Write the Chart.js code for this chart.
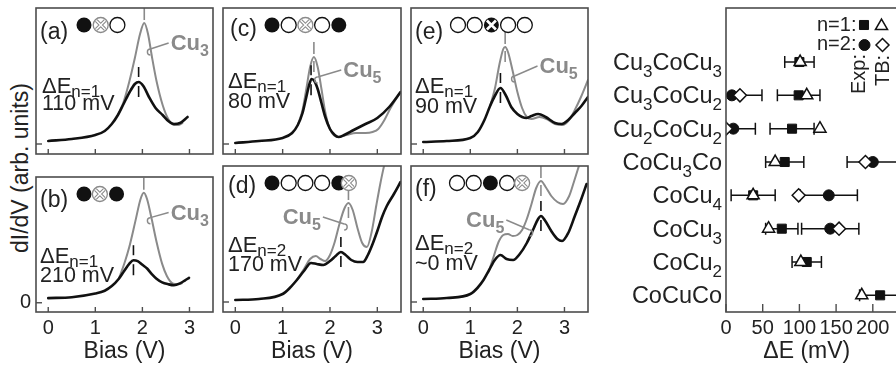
<!DOCTYPE html>
<html>
<head>
<meta charset="utf-8">
<script src="https://cdn.jsdelivr.net/npm/chart.js@4/dist/chart.umd.min.js"></script>
<style>
  html, body { margin: 0; padding: 0; background: #fff; }
  body { width: 896px; height: 369px; overflow: hidden; position: relative;
         font-family: 'Liberation Sans', Arial, Helvetica, sans-serif; }
  canvas { position: absolute; }
  #ylab { position: absolute; left: 20px; top: 168px; transform: translate(-50%, -50%) rotate(-90deg);
          font-size: 23px; color: #222; white-space: nowrap; line-height: 1; }
</style>
</head>
<body>
<div id="ylab">dI/dV (arb. units)</div>
<canvas id="pa" width="218" height="160" style="left:0;top:0"></canvas>
<canvas id="pb" width="218" height="209" style="left:0;top:160px"></canvas>
<canvas id="pc" width="196" height="160" style="left:210px;top:0"></canvas>
<canvas id="pd" width="196" height="209" style="left:210px;top:160px"></canvas>
<canvas id="pe" width="195" height="160" style="left:398px;top:0"></canvas>
<canvas id="pf" width="195" height="209" style="left:398px;top:160px"></canvas>
<canvas id="pg" width="320" height="369" style="left:600px;top:0"></canvas>
<script>
// ---- dI/dV spectra: bias (V) and dI/dV (arb. units) ----
const aExpBias = [0, 0.5, 1.0, 1.2, 1.35, 1.48, 1.6, 1.73, 1.84, 1.92, 2.02, 2.14, 2.28, 2.43, 2.55, 2.67, 2.8, 2.96];
const aExpDidv = [0.03, 0.05, 0.09, 0.13, 0.2, 0.29, 0.4, 0.52, 0.6, 0.62, 0.58, 0.47, 0.36, 0.29, 0.23, 0.2, 0.21, 0.27];
const aCuBias  = [1.48, 1.6, 1.72, 1.84, 1.95, 2.04, 2.12, 2.2, 2.3, 2.43, 2.55, 2.67, 2.76, 2.85];
const aCuDidv  = [0.29, 0.42, 0.62, 0.86, 1.1, 1.21, 1.1, 0.88, 0.63, 0.39, 0.25, 0.19, 0.19, 0.21];

const bExpBias = [0, 0.5, 1.0, 1.2, 1.35, 1.5, 1.62, 1.72, 1.81, 1.9, 2.0, 2.1, 2.2, 2.3, 2.42, 2.55, 2.67, 2.8, 2.9, 2.99];
const bExpDidv = [0.05, 0.06, 0.1, 0.13, 0.18, 0.26, 0.35, 0.42, 0.46, 0.45, 0.41, 0.37, 0.31, 0.26, 0.22, 0.2, 0.19, 0.21, 0.24, 0.27];
const bCuBias  = [1.5, 1.62, 1.72, 1.85, 1.96, 2.03, 2.1, 2.2, 2.3, 2.42, 2.52, 2.64, 2.75, 2.84];
const bCuDidv  = [0.26, 0.43, 0.6, 0.88, 1.12, 1.19, 1.12, 0.9, 0.66, 0.42, 0.29, 0.21, 0.2, 0.21];

const cExpBias = [0, 0.5, 1.0, 1.2, 1.32, 1.42, 1.5, 1.56, 1.61, 1.67, 1.74, 1.82, 1.9, 2.0, 2.1, 2.18, 2.3, 2.5, 2.75, 3.0, 3.25, 3.49];
const cExpDidv = [0.01, 0.03, 0.06, 0.11, 0.19, 0.31, 0.47, 0.59, 0.65, 0.63, 0.55, 0.41, 0.27, 0.15, 0.09, 0.07, 0.09, 0.14, 0.2, 0.26, 0.37, 0.52];
const cCuBias  = [1.32, 1.42, 1.5, 1.58, 1.66, 1.74, 1.82, 1.9, 1.98, 2.06, 2.18, 2.35, 2.55, 2.75, 2.9, 3.02, 3.15, 3.28, 3.49];
const cCuDidv  = [0.19, 0.34, 0.55, 0.77, 0.87, 0.77, 0.55, 0.32, 0.17, 0.1, 0.07, 0.09, 0.11, 0.11, 0.12, 0.15, 0.24, 0.36, 0.52];

const dExpBias = [0, 0.5, 1.0, 1.15, 1.3, 1.45, 1.6, 1.72, 1.86, 2.0, 2.12, 2.23, 2.33, 2.45, 2.58, 2.7, 2.8, 2.9, 3.0, 3.1, 3.2, 3.35, 3.49];
const dExpDidv = [0.02, 0.03, 0.08, 0.14, 0.22, 0.31, 0.39, 0.38, 0.37, 0.41, 0.46, 0.5, 0.47, 0.42, 0.4, 0.4, 0.47, 0.58, 0.71, 0.85, 0.96, 1.08, 1.2];
const dCuBias  = [1.3, 1.45, 1.58, 1.7, 1.8, 1.9, 2.0, 2.1, 2.2, 2.3, 2.39, 2.48, 2.58, 2.68, 2.78, 2.88, 2.98, 3.07, 3.15];
const dCuDidv  = [0.22, 0.33, 0.43, 0.46, 0.43, 0.41, 0.47, 0.6, 0.78, 0.93, 0.99, 0.92, 0.74, 0.59, 0.55, 0.7, 0.97, 1.2, 1.38];

const eExpBias = [0, 0.5, 1.0, 1.16, 1.3, 1.42, 1.52, 1.64, 1.75, 1.87, 2.0, 2.1, 2.19, 2.3, 2.44, 2.6, 2.8, 2.94, 3.08, 3.22, 3.36, 3.5];
const eExpDidv = [0.02, 0.03, 0.06, 0.12, 0.24, 0.38, 0.48, 0.56, 0.49, 0.37, 0.3, 0.27, 0.26, 0.28, 0.3, 0.27, 0.21, 0.2, 0.24, 0.31, 0.38, 0.47];
const eCuBias  = [1.42, 1.52, 1.62, 1.7, 1.74, 1.8, 1.9, 2.0, 2.1, 2.2, 2.3, 2.47, 2.62, 2.8, 2.97, 3.1, 3.22, 3.36, 3.5];
const eCuDidv  = [0.38, 0.55, 0.8, 0.95, 0.97, 0.92, 0.73, 0.52, 0.36, 0.27, 0.25, 0.27, 0.25, 0.2, 0.19, 0.24, 0.34, 0.48, 0.64];

const fExpBias = [0, 0.5, 1.0, 1.15, 1.28, 1.4, 1.52, 1.64, 1.77, 1.91, 2.05, 2.2, 2.35, 2.44, 2.5, 2.58, 2.72, 2.85, 2.95, 3.08, 3.22, 3.35, 3.47];
const fExpDidv = [0.03, 0.04, 0.08, 0.14, 0.22, 0.32, 0.42, 0.47, 0.43, 0.42, 0.48, 0.59, 0.74, 0.83, 0.86, 0.82, 0.71, 0.63, 0.61, 0.69, 0.86, 1.02, 1.18];
const fCuBias  = [1.4, 1.5, 1.6, 1.7, 1.8, 1.9, 2.0, 2.1, 2.2, 2.3, 2.4, 2.5, 2.6, 2.72, 2.85, 2.97, 3.1, 3.2, 3.32];
const fCuDidv  = [0.32, 0.46, 0.6, 0.67, 0.68, 0.66, 0.67, 0.72, 0.83, 0.98, 1.14, 1.21, 1.15, 1.06, 1.0, 0.98, 1.06, 1.2, 1.38];

const biasTicks = [0, 1, 2, 3];

// ---- (g) splitting of resonances, ΔE (mV) ----
const structures = ['Cu3CoCu3', 'Cu3CoCu2', 'Cu2CoCu2', 'CoCu3Co', 'CoCu4', 'CoCu3', 'CoCu2', 'CoCuCo'];
const expN1    = [100, 99, 90, 80, 37, 76, 110, 210];
const expN1Err = [20, 29, 30, 26, 30, 22, 20, 28];
const expN2    = [null, 8, 10, 200, 140, 142, null, null];
const expN2Err = [null, 41, 30, 35, 39, 39, null, null];
const tbN1     = [101, 110, 128, 67, 37, 58, 102, 185];
const tbN2     = [null, 19, 0, 190, 99, 154, null, null];
const deltaTicks = [0, 50, 100, 150, 200];

// ---- common styling ----
const FAMILY = "'Liberation Sans', Arial, Helvetica, sans-serif";
Chart.defaults.font.family = FAMILY;
Chart.defaults.color = '#222';
const INK = '#111';
const CU_GREY = '#8a8a8a';
const FRAME = '#4d4d4d';
const f = (size, weight) => (weight ? weight + ' ' : '') + size + 'px ' + FAMILY;

function interp(xs, ys, v) {
  for (let i = 1; i < xs.length; i++) {
    if (v <= xs[i]) { const t = (v - xs[i - 1]) / (xs[i] - xs[i - 1]); return ys[i - 1] + t * (ys[i] - ys[i - 1]); }
  }
  return ys[ys.length - 1];
}
const pts = (xs, ys) => xs.map((x, i) => ({ x, y: ys[i] }));

// text with a subscript part; returns total width
function subText(ctx, x, y, main, sub, mainFont, subFont, subDy) {
  ctx.textAlign = 'left'; ctx.textBaseline = 'alphabetic';
  ctx.font = mainFont; const w1 = ctx.measureText(main).width;
  ctx.fillText(main, x, y);
  ctx.font = subFont; const w2 = ctx.measureText(sub).width;
  ctx.fillText(sub, x + w1, y + subDy);
  return w1 + w2;
}

// atoms of the chain: F filled (Co), O open (Cu), X crossed Cu, K crossed Co
function drawAtom(ctx, kind, cx, cy, r) {
  ctx.save();
  ctx.beginPath(); ctx.arc(cx, cy, r, 0, Math.PI * 2);
  if (kind === 'F' || kind === 'K') { ctx.fillStyle = INK; ctx.fill(); }
  else {
    ctx.fillStyle = '#fff'; ctx.fill();
    ctx.lineWidth = 1.3; ctx.strokeStyle = kind === 'X' ? '#8a8a8a' : INK; ctx.stroke();
  }
  if (kind === 'X' || kind === 'K') {
    const d = r * 0.6;
    ctx.beginPath();
    ctx.moveTo(cx - d, cy - d); ctx.lineTo(cx + d, cy + d);
    ctx.moveTo(cx + d, cy - d); ctx.lineTo(cx - d, cy + d);
    if (kind === 'X') {
      ctx.strokeStyle = '#8a8a8a'; ctx.lineWidth = 3.6; ctx.stroke();
      ctx.strokeStyle = '#fff'; ctx.lineWidth = 1.5; ctx.stroke();
    } else {
      ctx.strokeStyle = '#fff'; ctx.lineWidth = 2.6; ctx.stroke();
    }
  }
  ctx.restore();
}

function vseg(ctx, x, y0, y1) { ctx.beginPath(); ctx.moveTo(x, y0); ctx.lineTo(x, y1); ctx.stroke(); }

// frame, inward ticks, peak markers and annotations of one spectrum panel
function spectrumDecor(p) {
  return {
    id: 'spectrumDecor',
    afterDatasetsDraw(chart) {
      const { ctx, chartArea: ca, scales: { x, y } } = chart;
      ctx.save();
      // peak markers
      ctx.save();
      ctx.beginPath(); ctx.rect(ca.left, ca.top, ca.width, ca.height); ctx.clip();
      const cx = x.getPixelForValue(p.peaks[0]);
      const cy = y.getPixelForValue(interp(p.cuX, p.cuY, p.peaks[0]));
      ctx.strokeStyle = CU_GREY; ctx.lineWidth = 1.6;
      vseg(ctx, cx, cy - 15, cy - 3);
      if (p.cuBelow) vseg(ctx, cx, cy + 4, cy + 15);
      const ex = x.getPixelForValue(p.peaks[1]);
      const ey = y.getPixelForValue(interp(p.expX, p.expY, p.peaks[1]));
      ctx.strokeStyle = INK; ctx.lineWidth = 1.6;
      vseg(ctx, ex, ey - 15, ey - 5);
      vseg(ctx, ex, ey + 4, ey + 15);
      ctx.restore();

      // frame
      ctx.strokeStyle = FRAME; ctx.lineWidth = 1.6;
      ctx.strokeRect(ca.left, ca.top, ca.width, ca.height);
      // inward ticks
      ctx.lineWidth = 1.4;
      biasTicks.forEach(v => {
        const tx = x.getPixelForValue(v);
        ctx.beginPath(); ctx.moveTo(tx, ca.bottom); ctx.lineTo(tx, ca.bottom - 5); ctx.stroke();
      });
      const y0 = y.getPixelForValue(0);
      ctx.beginPath(); ctx.moveTo(ca.left, y0); ctx.lineTo(ca.left + 6, y0); ctx.stroke();

      // chain of atoms
      p.chain.forEach(([kind, slot]) => drawAtom(ctx, kind, ca.left + p.atomDx + slot * 16.7, ca.top + 17, 7.5));

      // panel letter and splitting text
      ctx.fillStyle = '#222';
      ctx.font = f(23); ctx.textAlign = 'left'; ctx.textBaseline = 'alphabetic';
      ctx.fillText(p.letter, ca.left + p.letterDx, ca.top + p.letterDy);
      subText(ctx, ca.left + p.textDx, ca.top + p.dEDy, 'ΔE', p.n, f(22), f(17), 4);
      ctx.font = f(21.5);
      ctx.fillText(p.dE, ca.left + p.textDx, ca.top + p.valDy);

      // Cu chain label with leader
      const lx = x.getPixelForValue(p.cuAt[0]), ly = y.getPixelForValue(p.cuAt[1]);
      ctx.fillStyle = CU_GREY;
      const w = subText(ctx, lx, ly, 'Cu', p.cuSub, f(22, 'bold'), f(16, 'bold'), 6);
      const sx = p.leadSide === 'left' ? lx - 2 : lx + w + 2;
      const sy = ly - 7;
      const tx = x.getPixelForValue(p.cuLead[0]), ty = y.getPixelForValue(p.cuLead[1]);
      ctx.strokeStyle = CU_GREY; ctx.lineWidth = 1.4;
      ctx.beginPath(); ctx.moveTo(sx, sy); ctx.lineTo(tx, ty); ctx.stroke();
      ctx.beginPath();
      ctx.arc(tx, ty + 3, 3, -Math.PI / 2, Math.PI / 2, p.leadSide === 'left');
      ctx.stroke();
      ctx.restore();
    }
  };
}

const panels = [
  { canvas: 'pa', letter: '(a)', bottom: false, zeroLabel: false, axisWidth: 36,
    expX: aExpBias, expY: aExpDidv, cuX: aCuBias, cuY: aCuDidv, peaks: [2.04, 1.92],
    chain: [['F', 0], ['X', 1], ['O', 2]], n: 'n=1', dE: '110 mV', cuSub: '3',
    cuAt: [2.6, 0.94], cuLead: [2.17, 0.95], leadSide: 'left', cuBelow: false,
    atomDx: 48, letterDx: 4, letterDy: 31, textDx: 6, dEDy: 85, valDy: 102 },
  { canvas: 'pb', letter: '(b)', bottom: true, zeroLabel: true, axisWidth: 36,
    expX: bExpBias, expY: bExpDidv, cuX: bCuBias, cuY: bCuDidv, peaks: [2.03, 1.81],
    chain: [['F', 0], ['X', 0.95], ['F', 1.95]], n: 'n=1', dE: '210 mV', cuSub: '3',
    cuAt: [2.6, 0.9], cuLead: [2.17, 0.92], leadSide: 'left', cuBelow: false,
    atomDx: 48, letterDx: 4, letterDy: 30, textDx: 4, dEDy: 86, valDy: 105 },
  { canvas: 'pc', letter: '(c)', bottom: false, zeroLabel: false, axisWidth: 13,
    expX: cExpBias, expY: cExpDidv, cuX: cCuBias, cuY: cCuDidv, peaks: [1.66, 1.6],
    chain: [['F', 0], ['O', 1], ['X', 2], ['O', 3], ['F', 4]], n: 'n=1', dE: '80 mV', cuSub: '5',
    cuAt: [2.28, 0.67], cuLead: [1.74, 0.67], leadSide: 'left', cuBelow: true,
    atomDx: 49, letterDx: 7, letterDy: 28, textDx: 5, dEDy: 80, valDy: 100 },
  { canvas: 'pd', letter: '(d)', bottom: true, zeroLabel: false, axisWidth: 13,
    expX: dExpBias, expY: dExpDidv, cuX: dCuBias, cuY: dCuDidv, peaks: [2.39, 2.23],
    chain: [['F', 0], ['O', 1], ['O', 2], ['O', 3], ['F', 4], ['X', 4.6]], n: 'n=2', dE: '170 mV', cuSub: '5',
    cuAt: [1.0, 0.78], cuLead: [2.3, 0.78], leadSide: 'right', cuBelow: true,
    atomDx: 49, letterDx: 5, letterDy: 27, textDx: 5, dEDy: 86, valDy: 105 },
  { canvas: 'pe', letter: '(e)', bottom: false, zeroLabel: false, axisWidth: 13,
    expX: eExpBias, expY: eExpDidv, cuX: eCuBias, cuY: eCuDidv, peaks: [1.74, 1.64],
    chain: [['O', 0], ['O', 1], ['K', 2], ['O', 3], ['O', 4]], n: 'n=1', dE: '90 mV', cuSub: '5',
    cuAt: [2.47, 0.71], cuLead: [1.94, 0.68], leadSide: 'left', cuBelow: true,
    atomDx: 47, letterDx: 4, letterDy: 31, textDx: 4, dEDy: 85, valDy: 105 },
  { canvas: 'pf', letter: '(f)', bottom: true, zeroLabel: false, axisWidth: 13,
    expX: fExpBias, expY: fExpDidv, cuX: fCuBias, cuY: fCuDidv, peaks: [2.5, 2.5],
    chain: [['O', 0], ['O', 1], ['F', 2], ['O', 3], ['X', 3.9]], n: 'n=2', dE: '~0 mV', cuSub: '5',
    cuAt: [0.91, 0.75], cuLead: [2.26, 0.72], leadSide: 'right', cuBelow: true,
    atomDx: 46, letterDx: 4, letterDy: 30, textDx: 4, dEDy: 84, valDy: 104 }
];

panels.forEach(p => {
  new Chart(document.getElementById(p.canvas), {
    type: 'line',
    data: {
      datasets: [
        { label: 'Exp', data: pts(p.expX, p.expY), borderColor: INK, borderWidth: 2.6, order: 0, clip: 0 },
        { label: 'Cu', data: pts(p.cuX, p.cuY), borderColor: CU_GREY, borderWidth: 2, order: 1, clip: 0 }
      ]
    },
    options: {
      responsive: false, animation: false, devicePixelRatio: 1, events: [],
      layout: { autoPadding: false, padding: { top: p.bottom ? 6 : 8, right: 5, left: 0, bottom: 0 } },
      elements: {
        point: { radius: 0 },
        line: { cubicInterpolationMode: 'monotone', borderJoinStyle: 'round', borderCapStyle: 'round' }
      },
      plugins: { legend: { display: false }, tooltip: { enabled: false } },
      scales: {
        x: {
          type: 'linear', min: -0.26, max: 3.5,
          grid: { display: false, drawTicks: false }, border: { display: false },
          ticks: { display: p.bottom, font: { size: 20 }, padding: 4, color: '#222' },
          title: { display: p.bottom, text: 'Bias (V)', font: { size: 23 }, color: '#222', padding: { top: 0, bottom: 4 } },
          afterBuildTicks: s => { s.ticks = biasTicks.map(v => ({ value: v })); },
          afterFit: s => { s.height = p.bottom ? 57 : 6; }
        },
        y: {
          type: 'linear', min: -0.1, max: 1.36,
          grid: { display: false, drawTicks: false }, border: { display: false },
          ticks: { display: p.zeroLabel, font: { size: 20 }, padding: 5, color: '#222' },
          afterBuildTicks: s => { s.ticks = [{ value: 0 }]; },
          afterFit: s => { s.width = p.axisWidth; }
        }
      }
    },
    plugins: [spectrumDecor(p)]
  });
});

// ---- panel (g) ----
const rowOf = i => structures.length - 1 - i;
const rowPoints = vals => vals.map((v, i) => (v == null ? null : { x: v, y: rowOf(i) })).filter(Boolean);

function marker(ctx, style, radius, x, y, filled) {
  ctx.save();
  ctx.fillStyle = filled ? INK : '#fff';
  ctx.strokeStyle = INK; ctx.lineWidth = filled ? 1 : 1.5;
  if (Chart.helpers && Chart.helpers.drawPoint) {
    Chart.helpers.drawPoint(ctx, { pointStyle: style, radius, borderWidth: ctx.lineWidth, rotation: 0 }, x, y);
  } else {
    ctx.beginPath();
    if (style === 'circle') ctx.arc(x, y, radius, 0, Math.PI * 2);
    else if (style === 'rect') { const s = radius * Math.SQRT1_2; ctx.rect(x - s, y - s, 2 * s, 2 * s); }
    else if (style === 'triangle') {
      for (let k = 0; k < 3; k++) { const a = k * 2 * Math.PI / 3; ctx[k ? 'lineTo' : 'moveTo'](x + Math.sin(a) * radius, y - Math.cos(a) * radius); }
      ctx.closePath();
    } else { ctx.moveTo(x, y - radius); ctx.lineTo(x + radius, y); ctx.lineTo(x, y + radius); ctx.lineTo(x - radius, y); ctx.closePath(); }
    ctx.fill(); ctx.stroke();
  }
  ctx.restore();
}

const splittingDecor = {
  id: 'splittingDecor',
  beforeDatasetsDraw(chart) {
    const { ctx, chartArea: ca, scales: { x, y } } = chart;
    ctx.save();
    ctx.beginPath(); ctx.rect(ca.left, ca.top, ca.width, ca.height); ctx.clip();
    ctx.strokeStyle = INK; ctx.lineWidth = 1.5;
    const bars = (vals, errs) => vals.forEach((v, i) => {
      if (v == null) return;
      const py = y.getPixelForValue(rowOf(i));
      const x0 = x.getPixelForValue(v - errs[i]), x1 = x.getPixelForValue(v + errs[i]);
      ctx.beginPath();
      ctx.moveTo(x0, py); ctx.lineTo(x1, py);
      ctx.moveTo(x0, py - 6); ctx.lineTo(x0, py + 6);
      ctx.moveTo(x1, py - 6); ctx.lineTo(x1, py + 6);
      ctx.stroke();
    });
    bars(expN1, expN1Err);
    bars(expN2, expN2Err);
    ctx.restore();
  },
  afterDatasetsDraw(chart) {
    const { ctx, chartArea: ca, scales: { x, y } } = chart;
    ctx.save();
    ctx.strokeStyle = FRAME; ctx.lineWidth = 1.6;
    ctx.strokeRect(ca.left, ca.top, ca.width, ca.height);
    ctx.lineWidth = 1.4;
    deltaTicks.forEach(v => {
      const tx = x.getPixelForValue(v);
      ctx.beginPath(); ctx.moveTo(tx, ca.bottom); ctx.lineTo(tx, ca.bottom - 8); ctx.stroke();
    });

    // structure names with subscripts, right-aligned at the axis
    ctx.fillStyle = '#222';
    const mainF = f(23.5), subF = f(17);
    structures.forEach((name, i) => {
      const parts = name.split(/(\d+)/).filter(s => s.length);
      let total = 0;
      parts.forEach(s => { ctx.font = /\d/.test(s) ? subF : mainF; total += ctx.measureText(s).width; });
      const base = y.getPixelForValue(rowOf(i)) + 8;
      let px = ca.left - 4 - total;
      ctx.textAlign = 'left'; ctx.textBaseline = 'alphabetic';
      parts.forEach(s => {
        const sub = /\d/.test(s);
        ctx.font = sub ? subF : mainF;
        ctx.fillText(s, px, base + (sub ? 7 : 0));
        px += ctx.measureText(s).width;
      });
    });

    // axis title
    ctx.font = f(23); ctx.textAlign = 'center'; ctx.textBaseline = 'middle';
    ctx.fillText('ΔE (mV)', x.getPixelForValue(110), 352);

    // key
    ctx.font = f(20); ctx.textAlign = 'left'; ctx.textBaseline = 'alphabetic';
    ctx.fillText('n=1:', ca.left + 91, ca.top + 23);
    ctx.fillText('n=2:', ca.left + 91, ca.top + 42);
    marker(ctx, 'rect', 6.4, ca.left + 138, ca.top + 17, true);
    marker(ctx, 'triangle', 7, ca.left + 155.5, ca.top + 18, false);
    marker(ctx, 'circle', 5.5, ca.left + 138.5, ca.top + 37, true);
    marker(ctx, 'rectRot', 6.5, ca.left + 156.5, ca.top + 37, false);
    ctx.save();
    ctx.translate(ca.left + 133.5, ca.top + 86);
    ctx.rotate(-Math.PI / 2);
    ctx.textBaseline = 'middle'; ctx.fillText('Exp:', 0, 0);
    ctx.restore();
    ctx.save();
    ctx.translate(ca.left + 157.5, ca.top + 78);
    ctx.rotate(-Math.PI / 2);
    ctx.textBaseline = 'middle'; ctx.fillText('TB:', 0, 0);
    ctx.restore();
    ctx.restore();
  }
};

new Chart(document.getElementById('pg'), {
  type: 'scatter',
  data: {
    datasets: [
      { label: 'TB n=1', data: rowPoints(tbN1), pointStyle: 'triangle', pointRadius: 7,
        backgroundColor: '#fff', borderColor: INK, borderWidth: 1.5, order: 0, clip: 0 },
      { label: 'TB n=2', data: rowPoints(tbN2), pointStyle: 'rectRot', pointRadius: 6.5,
        backgroundColor: '#fff', borderColor: INK, borderWidth: 1.5, order: 0, clip: 0 },
      { label: 'Exp n=1', data: rowPoints(expN1), pointStyle: 'rect', pointRadius: 6.4,
        backgroundColor: INK, borderColor: INK, borderWidth: 1, order: 1, clip: 0 },
      { label: 'Exp n=2', data: rowPoints(expN2), pointStyle: 'circle', pointRadius: 5.5,
        backgroundColor: INK, borderColor: INK, borderWidth: 1, order: 1, clip: 0 }
    ]
  },
  options: {
    responsive: false, animation: false, devicePixelRatio: 1, events: [],
    layout: { autoPadding: false, padding: { top: 8, right: 10.5, left: 0, bottom: 0 } },
    plugins: { legend: { display: false }, tooltip: { enabled: false } },
    scales: {
      x: {
        type: 'linear', min: 0, max: 250,
        grid: { display: false, drawTicks: false }, border: { display: false },
        ticks: { font: { size: 20 }, padding: 4, color: '#222' },
        afterBuildTicks: s => { s.ticks = deltaTicks.map(v => ({ value: v })); },
        afterFit: s => { s.height = 57; }
      },
      y: {
        type: 'linear', min: -0.5, max: 8.62,
        grid: { display: false, drawTicks: false }, border: { display: false },
        ticks: { display: false },
        afterFit: s => { s.width = 126; }
      }
    }
  },
  plugins: [splittingDecor]
});
</script>
</body>
</html>
